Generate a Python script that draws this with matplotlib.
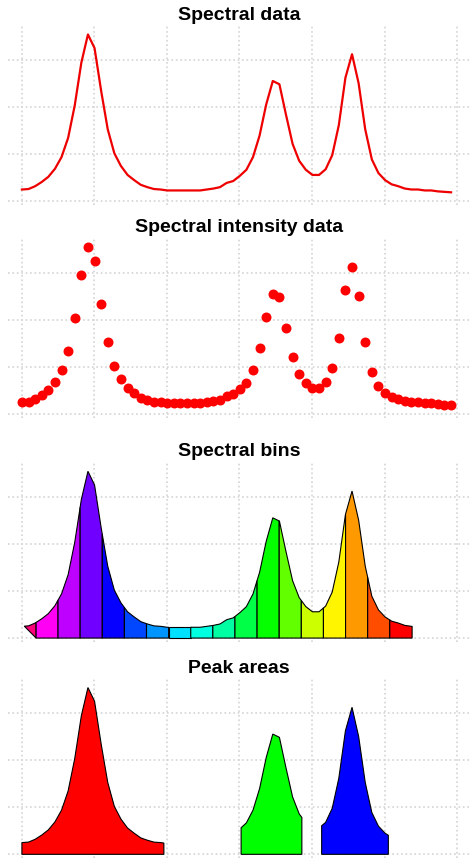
import matplotlib.pyplot as plt
import matplotlib.colors as mcolors
import numpy as np

# intensity (grid units)
intensity = [0.25, 0.26, 0.32, 0.41, 0.52, 0.69, 0.94, 1.35, 2.04, 2.95, 3.55, 3.26,
             2.35, 1.53, 1.02, 0.75, 0.56, 0.45, 0.35, 0.30, 0.26, 0.25, 0.23, 0.23,
             0.23, 0.23, 0.23, 0.23, 0.25, 0.27, 0.30, 0.39, 0.43, 0.54, 0.67, 0.94,
             1.40, 2.06, 2.56, 2.49, 1.84, 1.22, 0.86, 0.67, 0.56, 0.56, 0.68, 0.98,
             1.62, 2.63, 3.13, 2.51, 1.53, 0.89, 0.60, 0.45, 0.36, 0.32, 0.27, 0.25,
             0.25, 0.23, 0.23, 0.21, 0.20, 0.19]
bin_edges = [0.36, 2.15, 5.47, 8.82, 12.17, 15.52, 18.87, 22.22, 25.57, 28.92,
             32.27, 35.62, 38.97, 42.32, 45.67, 49.02, 52.37, 55.72, 59.1]
bin_hues = [0.92, 0.84, 0.79, 0.74, 0.67, 0.62, 0.57, 0.52, 0.48, 0.44,
            0.38, 0.33, 0.27, 0.2, 0.16, 0.1, 0.05, 0.0]
peak_ranges = [(0.0, 21.5), (33.2, 42.4), (45.4, 55.5)]
peak_colors = ['#ff0000', '#00ff00', '#0000ff']
titles = ['Spectral data', 'Spectral intensity data', 'Spectral bins', 'Peak areas']

plt.rcParams['font.family'] = ['Liberation Sans', 'DejaVu Sans']

y = np.array(intensity)
x = np.arange(len(y))

fig = plt.figure(figsize=(4.74, 8.65), dpi=100)
boxes = [(0.017, 0.763, 0.975, 0.208), (0.017, 0.517, 0.975, 0.208),
         (0.017, 0.258, 0.975, 0.208), (0.017, 0.008, 0.975, 0.208)]
axes = []
for box, title in zip(boxes, titles):
    ax = fig.add_axes(box)
    ax.set_xlim(-2.1, 67.9)
    ax.set_ylim(-0.08, 3.75)
    ax.set_xticks(np.arange(0, 67, 11) - 0.05)
    ax.set_yticks([0, 1, 2, 3])
    ax.set_axisbelow(True)
    ax.grid(True, linestyle=':', color='#d4d4d4', linewidth=1.2)
    ax.tick_params(length=0, labelbottom=False, labelleft=False)
    for s in ax.spines.values():
        s.set_visible(False)
    ax.set_title(title, fontsize=14, fontweight='bold', pad=4)
    axes.append(ax)

axes[0].plot(x, y, color='#ee0000', lw=1.6)
axes[1].scatter(x, y, color='#ff0000', s=38, zorder=3)

ax = axes[2]
for i in range(len(bin_edges) - 1):
    a, b = bin_edges[i], bin_edges[i + 1]
    xs = np.concatenate([[a], x[(x > a) & (x < b)], [b]])
    ys = np.interp(xs, x, y)
    col = mcolors.hsv_to_rgb((bin_hues[i], 1, 1))
    if i == 0:
        px = np.concatenate([xs, [b, a]])
        py = np.concatenate([ys, [0, ys[0]]])
    else:
        px = np.concatenate([[a], xs, [b]])
        py = np.concatenate([[0], ys, [0]])
    ax.fill(px, py, facecolor=col, edgecolor='black', lw=0.8)

ax = axes[3]
for (a, b), col in zip(peak_ranges, peak_colors):
    xs = np.concatenate([[a], x[(x > a) & (x < b)], [b]])
    ys = np.interp(xs, x, y)
    ax.fill(np.concatenate([[a], xs, [b]]), np.concatenate([[0], ys, [0]]),
            facecolor=col, edgecolor='black', lw=0.8)

fig.savefig('out.png')
